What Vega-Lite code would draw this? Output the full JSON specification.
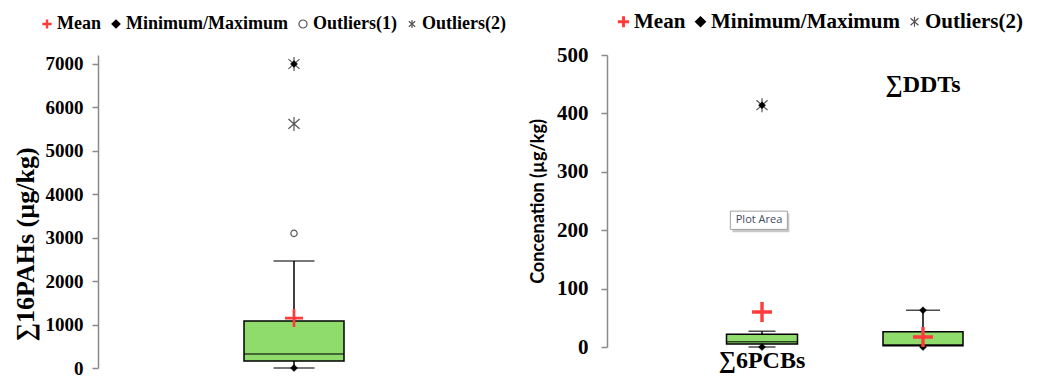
{
  "$schema": "https://vega.github.io/schema/vega-lite/v6.json",
  "padding": {"left": 12, "top": 11, "right": 0, "bottom": 0},
  "spacing": 6,
  "config": {"view": {"stroke": null}, "axis": {"grid": false}, "font": "Liberation Serif"},
  "resolve": {
    "scale": {"x": "independent", "y": "independent", "shape": "independent", "fill": "independent", "stroke": "independent"},
    "legend": {"shape": "independent", "fill": "independent", "stroke": "independent"}
  },
  "datasets": {
    "pahStats": [{"cat": "∑16PAHs", "min": 0, "q1": 161, "med": 322, "q3": 1083, "hi": 2465}],
    "pahPts": [
      {"cat": "∑16PAHs", "series": "Outliers(2)", "value": 5620},
      {"cat": "∑16PAHs", "series": "Outliers(2)", "value": 7000},
      {"cat": "∑16PAHs", "series": "Outliers(1)", "value": 3100},
      {"cat": "∑16PAHs", "series": "Minimum/Maximum", "value": 7000},
      {"cat": "∑16PAHs", "series": "Minimum/Maximum", "value": 0},
      {"cat": "∑16PAHs", "series": "Mean", "value": 1150}
    ],
    "ocStats": [
      {"cat": "∑6PCBs", "min": 0, "q1": 5, "med": 9, "q3": 22, "hi": 27},
      {"cat": "∑DDTs", "min": 0, "q1": 2, "med": 4, "q3": 26, "hi": 63}
    ],
    "ocPts": [
      {"cat": "∑6PCBs", "series": "Outliers(2)", "value": 414},
      {"cat": "∑6PCBs", "series": "Minimum/Maximum", "value": 414},
      {"cat": "∑6PCBs", "series": "Minimum/Maximum", "value": 0},
      {"cat": "∑DDTs", "series": "Minimum/Maximum", "value": 63},
      {"cat": "∑DDTs", "series": "Minimum/Maximum", "value": 0},
      {"cat": "∑6PCBs", "series": "Mean", "value": 60},
      {"cat": "∑DDTs", "series": "Mean", "value": 17}
    ],
    "ocLabels": [
      {"cat": "∑6PCBs", "value": -24, "label": "∑6PCBs"},
      {"cat": "∑DDTs", "value": 449, "label": "∑DDTs"}
    ],
    "tip": [{"cat": "∑6PCBs", "value": 217, "label": "Plot Area"}]
  },
  "hconcat": [
    {
      "width": 425,
      "height": 313,
      "layer": [
        {
          "data": {"name": "pahStats"},
          "mark": {"type": "rule", "color": "black", "strokeWidth": 1.5},
          "encoding": {
            "x": {"field": "cat", "type": "nominal", "scale": {"type": "point", "range": [196, 196], "padding": 0}, "axis": null},
            "y": {"field": "q3", "type": "quantitative", "scale": {"domain": [0, 7207], "nice": false},
              "axis": {"values": [0, 1000, 2000, 3000, 4000, 5000, 6000, 7000], "format": "d", "labelFont": "Liberation Serif", "labelFontWeight": "bold", "labelFontSize": 19, "labelColor": "black", "domainColor": "#8a8a8a", "tickColor": "#8a8a8a", "domainWidth": 1.5, "tickWidth": 1.5, "tickSize": 6, "labelPadding": 9, "title": "∑16PAHs (µg/kg)", "titleFont": "Liberation Serif", "titleFontSize": 26, "titleFontWeight": "bold", "titleColor": "black", "titlePadding": 7, "titleY": 189}},
            "y2": {"field": "hi"}
          }
        },
        {
          "data": {"name": "pahStats"},
          "mark": {"type": "rule", "color": "black", "strokeWidth": 1.5},
          "encoding": {
            "x": {"field": "cat", "type": "nominal"},
            "y": {"field": "min", "type": "quantitative"},
            "y2": {"field": "q1"}
          }
        },
        {
          "data": {"name": "pahStats"},
          "mark": {"type": "bar", "size": 100, "fill": "#8fdc6c", "stroke": "black", "strokeWidth": 1.5},
          "encoding": {
            "x": {"field": "cat", "type": "nominal"},
            "y": {"field": "q1", "type": "quantitative"},
            "y2": {"field": "q3"}
          }
        },
        {
          "data": {"name": "pahStats"},
          "mark": {"type": "tick", "size": 100, "thickness": 1.5, "color": "black", "orient": "horizontal"},
          "encoding": {"x": {"field": "cat", "type": "nominal"}, "y": {"field": "med", "type": "quantitative"}}
        },
        {
          "data": {"name": "pahStats"},
          "mark": {"type": "tick", "size": 41, "thickness": 1.5, "color": "black", "orient": "horizontal"},
          "encoding": {"x": {"field": "cat", "type": "nominal"}, "y": {"field": "hi", "type": "quantitative"}}
        },
        {
          "data": {"name": "pahStats"},
          "mark": {"type": "tick", "size": 41, "thickness": 1.5, "color": "black", "orient": "horizontal"},
          "encoding": {"x": {"field": "cat", "type": "nominal"}, "y": {"field": "min", "type": "quantitative"}}
        },
        {
          "data": {"name": "pahPts"},
          "transform": [{"filter": "datum.series == 'Outliers(2)'"}],
          "mark": {"type": "point", "filled": true, "size": 196, "strokeWidth": 1.2, "opacity": 1},
          "encoding": {
            "x": {"field": "cat", "type": "nominal"},
            "y": {"field": "value", "type": "quantitative"},
            "shape": {"field": "series", "type": "nominal", "scale": {"domain": ["Mean", "Minimum/Maximum", "Outliers(1)", "Outliers(2)"], "range": ["M-1,-0.15L-0.15,-0.15L-0.15,-1L0.15,-1L0.15,-0.15L1,-0.15L1,0.15L0.15,0.15L0.15,1L-0.15,1L-0.15,0.15L-1,0.15Z", "diamond", "circle", "M0,-1L0,1M-0.8,-0.7L0.8,0.7M-0.8,0.7L0.8,-0.7"]},
              "legend": {"orient": "none", "legendX": -60, "legendY": -40, "direction": "horizontal", "title": null, "labelFont": "Liberation Serif", "labelFontWeight": "bold", "labelFontSize": 18, "labelColor": "black", "labelLimit": 0, "symbolSize": 64, "labelOffset": 1, "columnPadding": 6, "symbolStrokeWidth": 1.2}},
            "fill": {"field": "series", "type": "nominal", "scale": {"domain": ["Mean", "Minimum/Maximum", "Outliers(1)", "Outliers(2)"], "range": ["#ff3b3b", "black", "white", "transparent"]}},
            "stroke": {"field": "series", "type": "nominal", "scale": {"domain": ["Mean", "Minimum/Maximum", "Outliers(1)", "Outliers(2)"], "range": ["#ff3b3b", "black", "#555555", "#555555"]}}
          }
        },
        {
          "data": {"name": "pahPts"},
          "transform": [{"filter": "datum.series == 'Outliers(1)'"}],
          "mark": {"type": "point", "filled": true, "size": 40, "strokeWidth": 1.2, "opacity": 1},
          "encoding": {
            "x": {"field": "cat", "type": "nominal"},
            "y": {"field": "value", "type": "quantitative"},
            "shape": {"field": "series", "type": "nominal"},
            "fill": {"field": "series", "type": "nominal"},
            "stroke": {"field": "series", "type": "nominal"}
          }
        },
        {
          "data": {"name": "pahPts"},
          "transform": [{"filter": "datum.series == 'Minimum/Maximum'"}],
          "mark": {"type": "point", "filled": true, "size": 49, "strokeWidth": 0.5, "opacity": 1},
          "encoding": {
            "x": {"field": "cat", "type": "nominal"},
            "y": {"field": "value", "type": "quantitative"},
            "shape": {"field": "series", "type": "nominal"},
            "fill": {"field": "series", "type": "nominal"},
            "stroke": {"field": "series", "type": "nominal"}
          }
        },
        {
          "data": {"name": "pahPts"},
          "transform": [{"filter": "datum.series == 'Mean'"}],
          "mark": {"type": "point", "filled": true, "size": 324, "strokeWidth": 0, "opacity": 1},
          "encoding": {
            "x": {"field": "cat", "type": "nominal"},
            "y": {"field": "value", "type": "quantitative"},
            "shape": {"field": "series", "type": "nominal"},
            "fill": {"field": "series", "type": "nominal"},
            "stroke": {"field": "series", "type": "nominal"}
          }
        }
      ]
    },
    {
      "width": 430,
      "height": 292,
      "layer": [
        {
          "data": {"name": "ocStats"},
          "mark": {"type": "rule", "color": "black", "strokeWidth": 1.5},
          "encoding": {
            "x": {"field": "cat", "type": "nominal", "scale": {"type": "point", "domain": ["∑6PCBs", "∑DDTs"], "range": [155, 316], "padding": 0}, "axis": null},
            "y": {"field": "q3", "type": "quantitative", "scale": {"domain": [0, 500], "nice": false},
              "axis": {"values": [0, 100, 200, 300, 400, 500], "labelFont": "Liberation Serif", "labelFontWeight": "bold", "labelFontSize": 21, "labelColor": "black", "domainColor": "#8a8a8a", "tickColor": "#8a8a8a", "domainWidth": 1.5, "tickWidth": 1.5, "tickSize": 6, "labelPadding": 13, "title": "Concenation (µg/kg)", "titleFont": "Lato", "titleFontSize": 18, "titleFontWeight": "bold", "titleColor": "black", "titlePadding": 9}},
            "y2": {"field": "hi"}
          }
        },
        {
          "data": {"name": "ocStats"},
          "mark": {"type": "rule", "color": "black", "strokeWidth": 1.5},
          "encoding": {
            "x": {"field": "cat", "type": "nominal"},
            "y": {"field": "min", "type": "quantitative"},
            "y2": {"field": "q1"}
          }
        },
        {
          "data": {"name": "ocStats"},
          "transform": [{"filter": "datum.cat == '∑6PCBs'"}],
          "mark": {"type": "bar", "size": 71, "fill": "#8fdc6c", "stroke": "black", "strokeWidth": 1.5},
          "encoding": {
            "x": {"field": "cat", "type": "nominal"},
            "y": {"field": "q1", "type": "quantitative"},
            "y2": {"field": "q3"}
          }
        },
        {
          "data": {"name": "ocStats"},
          "transform": [{"filter": "datum.cat == '∑DDTs'"}],
          "mark": {"type": "bar", "size": 80, "fill": "#8fdc6c", "stroke": "black", "strokeWidth": 1.5},
          "encoding": {
            "x": {"field": "cat", "type": "nominal"},
            "y": {"field": "q1", "type": "quantitative"},
            "y2": {"field": "q3"}
          }
        },
        {
          "data": {"name": "ocStats"},
          "transform": [{"filter": "datum.cat == '∑6PCBs'"}],
          "mark": {"type": "tick", "size": 71, "thickness": 1.5, "color": "black", "orient": "horizontal"},
          "encoding": {"x": {"field": "cat", "type": "nominal"}, "y": {"field": "med", "type": "quantitative"}}
        },
        {
          "data": {"name": "ocStats"},
          "transform": [{"filter": "datum.cat == '∑DDTs'"}],
          "mark": {"type": "tick", "size": 80, "thickness": 1.5, "color": "black", "orient": "horizontal"},
          "encoding": {"x": {"field": "cat", "type": "nominal"}, "y": {"field": "med", "type": "quantitative"}}
        },
        {
          "data": {"name": "ocStats"},
          "transform": [{"filter": "datum.cat == '∑6PCBs'"}],
          "mark": {"type": "tick", "size": 27, "thickness": 1.5, "color": "black", "orient": "horizontal"},
          "encoding": {"x": {"field": "cat", "type": "nominal"}, "y": {"field": "hi", "type": "quantitative"}}
        },
        {
          "data": {"name": "ocStats"},
          "transform": [{"filter": "datum.cat == '∑6PCBs'"}],
          "mark": {"type": "tick", "size": 27, "thickness": 1.5, "color": "black", "orient": "horizontal"},
          "encoding": {"x": {"field": "cat", "type": "nominal"}, "y": {"field": "min", "type": "quantitative"}}
        },
        {
          "data": {"name": "ocStats"},
          "transform": [{"filter": "datum.cat == '∑DDTs'"}],
          "mark": {"type": "tick", "size": 34, "thickness": 1.5, "color": "black", "orient": "horizontal"},
          "encoding": {"x": {"field": "cat", "type": "nominal"}, "y": {"field": "hi", "type": "quantitative"}}
        },
        {
          "data": {"name": "ocPts"},
          "transform": [{"filter": "datum.series == 'Outliers(2)'"}],
          "mark": {"type": "point", "filled": true, "size": 196, "strokeWidth": 1.2, "opacity": 1},
          "encoding": {
            "x": {"field": "cat", "type": "nominal"},
            "y": {"field": "value", "type": "quantitative"},
            "shape": {"field": "series", "type": "nominal", "scale": {"domain": ["Mean", "Minimum/Maximum", "Outliers(2)"], "range": ["M-1,-0.17L-0.17,-0.17L-0.17,-1L0.17,-1L0.17,-0.17L1,-0.17L1,0.17L0.17,0.17L0.17,1L-0.17,1L-0.17,0.17L-1,0.17Z", "diamond", "M0,-1L0,1M-0.8,-0.7L0.8,0.7M-0.8,0.7L0.8,-0.7"]},
              "legend": {"orient": "none", "legendX": 6, "legendY": -44, "direction": "horizontal", "title": null, "labelFont": "Liberation Serif", "labelFontWeight": "bold", "labelFontSize": 21, "labelColor": "black", "labelLimit": 0, "symbolSize": 100, "labelOffset": 0, "columnPadding": 4, "symbolStrokeWidth": 1.2}},
            "fill": {"field": "series", "type": "nominal", "scale": {"domain": ["Mean", "Minimum/Maximum", "Outliers(2)"], "range": ["#ff3b3b", "black", "transparent"]}},
            "stroke": {"field": "series", "type": "nominal", "scale": {"domain": ["Mean", "Minimum/Maximum", "Outliers(2)"], "range": ["#ff3b3b", "black", "#555555"]}}
          }
        },
        {
          "data": {"name": "ocPts"},
          "transform": [{"filter": "datum.series == 'Minimum/Maximum'"}],
          "mark": {"type": "point", "filled": true, "size": 49, "strokeWidth": 0.5, "opacity": 1},
          "encoding": {
            "x": {"field": "cat", "type": "nominal"},
            "y": {"field": "value", "type": "quantitative"},
            "shape": {"field": "series", "type": "nominal"},
            "fill": {"field": "series", "type": "nominal"},
            "stroke": {"field": "series", "type": "nominal"}
          }
        },
        {
          "data": {"name": "ocPts"},
          "transform": [{"filter": "datum.series == 'Mean'"}],
          "mark": {"type": "point", "filled": true, "size": 400, "strokeWidth": 0, "opacity": 1},
          "encoding": {
            "x": {"field": "cat", "type": "nominal"},
            "y": {"field": "value", "type": "quantitative"},
            "shape": {"field": "series", "type": "nominal"},
            "fill": {"field": "series", "type": "nominal"},
            "stroke": {"field": "series", "type": "nominal"}
          }
        },
        {
          "data": {"name": "ocLabels"},
          "mark": {"type": "text", "font": "Liberation Serif", "fontWeight": "bold", "fontSize": 24, "color": "black", "baseline": "middle"},
          "encoding": {
            "x": {"field": "cat", "type": "nominal"},
            "y": {"field": "value", "type": "quantitative"},
            "text": {"field": "label"}
          }
        },
        {
          "data": {"name": "tip"},
          "mark": {"type": "point", "filled": true, "size": 3249, "shape": "M-1.04,-0.24L0.96,-0.24L0.96,0.42L-1.04,0.42Z", "fill": "#c8c8c8", "strokeWidth": 0, "opacity": 1},
          "encoding": {"x": {"field": "cat", "type": "nominal"}, "y": {"field": "value", "type": "quantitative"}}
        },
        {
          "data": {"name": "tip"},
          "mark": {"type": "point", "filled": true, "size": 3249, "shape": "M-1.11,-0.32L0.89,-0.32L0.89,0.32L-1.11,0.32Z", "fill": "white", "stroke": "#a0a0a0", "strokeWidth": 1, "opacity": 1},
          "encoding": {"x": {"field": "cat", "type": "nominal"}, "y": {"field": "value", "type": "quantitative"}}
        },
        {
          "data": {"name": "tip"},
          "mark": {"type": "text", "font": "Open Sans", "fontSize": 11, "color": "#3f4d60", "baseline": "middle", "dx": -3}, 
          "encoding": {"x": {"field": "cat", "type": "nominal"}, "y": {"field": "value", "type": "quantitative"}, "text": {"field": "label"}}
        }
      ]
    }
  ]
}
